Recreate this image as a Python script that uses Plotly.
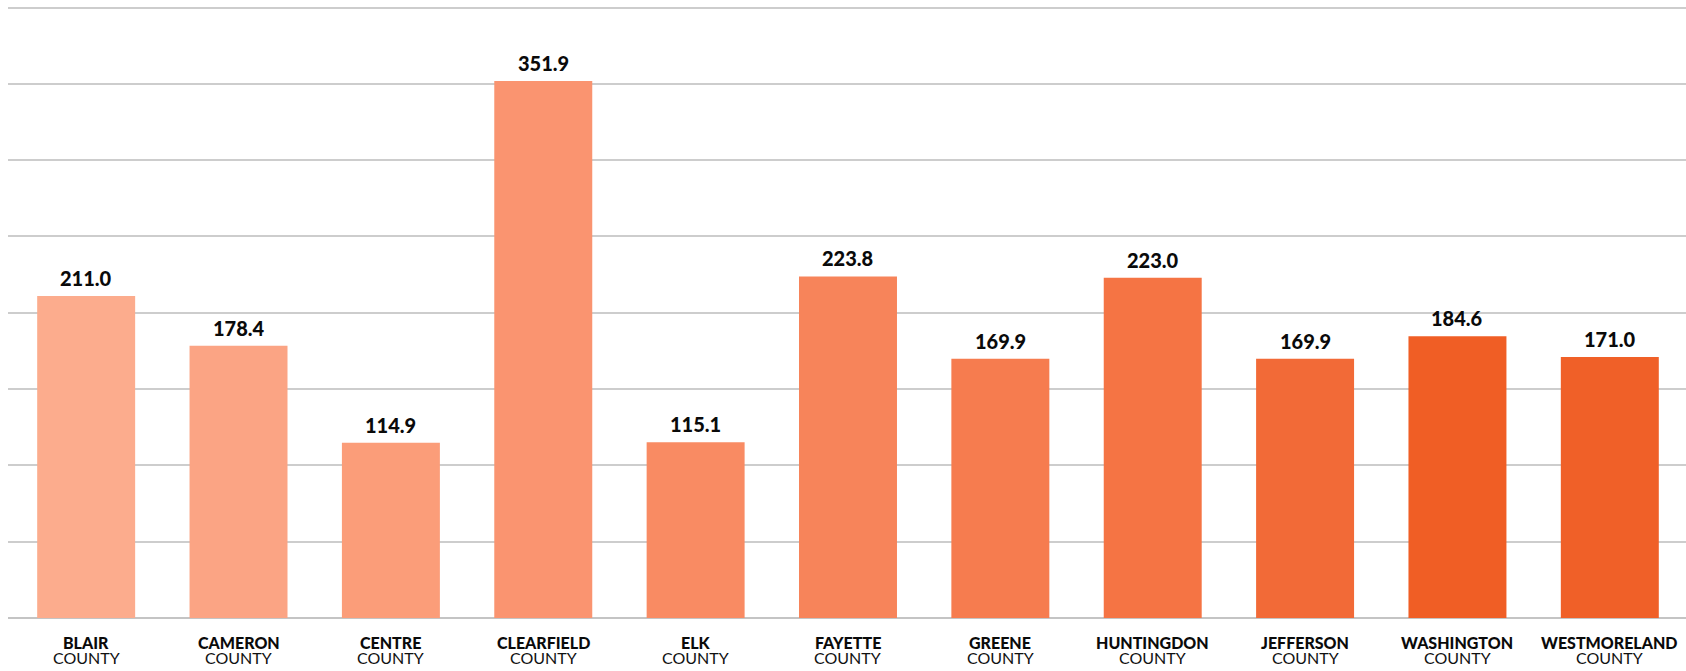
import plotly.graph_objects as go

# County names and values
counties = ["BLAIR", "CAMERON", "CENTRE", "CLEARFIELD", "ELK", "FAYETTE",
            "GREENE", "HUNTINGDON", "JEFFERSON", "WASHINGTON", "WESTMORELAND"]
values = [211.0, 178.4, 114.9, 351.9, 115.1, 223.8, 169.9, 223.0, 169.9, 184.6, 171.0]
bar_colors = ["#FCAC8D", "#FBA484", "#FB9D79", "#FA9470", "#F98B63", "#F7845A",
              "#F67C4F", "#F57444", "#F26A37", "#F05E25", "#F06028"]

FONT = "Lato, 'Open Sans', sans-serif"

fig = go.Figure(go.Bar(
    x=counties,
    y=values,
    marker=dict(color=bar_colors, line=dict(width=0)),
    hoverinfo="skip",
))

annotations = []
for name, v in zip(counties, values):
    # value above each bar
    annotations.append(dict(
        x=name, y=v, xref="x", yref="y", text=f"{v:.1f}",
        showarrow=False, yanchor="bottom", yshift=4,
        font=dict(family=FONT, size=20, color="#0A0A0A", weight=900),
    ))
    # two-line category label below the baseline
    annotations.append(dict(
        x=name, y=0, xref="x", yref="y", text=name,
        showarrow=False, yanchor="middle", yshift=-24.5,
        font=dict(family=FONT, size=16, color="#0A0A0A", weight=900),
    ))
    annotations.append(dict(
        x=name, y=0, xref="x", yref="y", text="COUNTY",
        showarrow=False, yanchor="middle", yshift=-39.5,
        font=dict(family=FONT, size=16, color="#111111"),
    ))

fig.update_layout(
    width=1686, height=671,
    margin=dict(l=8, r=0, t=6, b=53),
    paper_bgcolor="white", plot_bgcolor="white",
    bargap=0.357,
    showlegend=False,
    annotations=annotations,
    font=dict(family=FONT),
    xaxis=dict(range=[-0.513, 10.5], showticklabels=False, showgrid=False,
               zeroline=False, showline=False, ticks=""),
    yaxis=dict(range=[0, 401], tickvals=[50, 100, 150, 200, 250, 300, 350, 400],
               showticklabels=False,
               showgrid=True, gridcolor="#CDCDCD", gridwidth=2,
               zeroline=True, zerolinecolor="#C4C4C4", zerolinewidth=2,
               showline=False, ticks=""),
)

fig.write_html("out.html")
